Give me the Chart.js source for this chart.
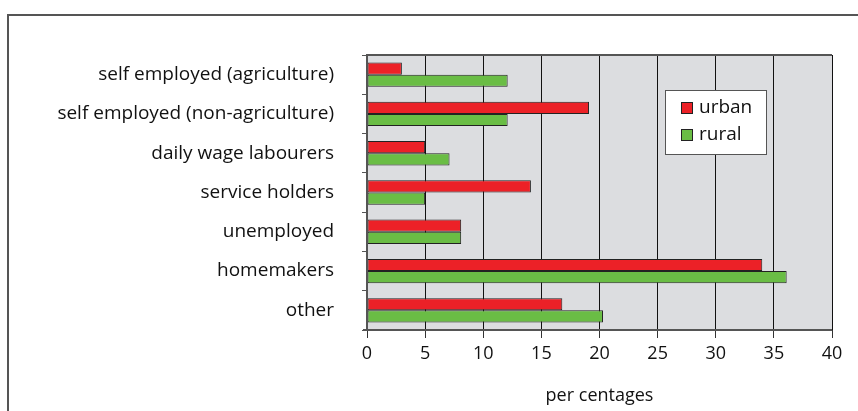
<!DOCTYPE html>
<html>
<head>
<meta charset="utf-8">
<script src="https://cdn.jsdelivr.net/npm/chart.js@4"></script>
<style>
  html, body { margin:0; padding:0; background:#fff; overflow:hidden; }
  #wrap { position:relative; width:858px; height:411px; }
  #frame { position:absolute; left:7px; top:14px; width:900px; height:450px; border-left:2px solid #555; border-top:2px solid #555; }
  canvas { position:absolute; left:0; top:0; }
</style>
</head>
<body>
<div id="wrap">
  <div id="frame"></div>
  <canvas id="chart" width="858" height="411"></canvas>
</div>
<script>
// --- Data ---
const categories = [
  "self employed (agriculture)",
  "self employed (non-agriculture)",
  "daily wage labourers",
  "service holders",
  "unemployed",
  "homemakers",
  "other"
];
const urban = [3, 19.1, 5, 14.1, 8.1, 34, 16.8];
const rural = [12.1, 12.1, 7.1, 5, 8.1, 36.1, 20.3];
const xTicks = [0, 5, 10, 15, 20, 25, 30, 35, 40];
const xTitle = "per centages";

const FONT = "'Open Sans', sans-serif";

// grey plot area + border
const plotBg = {
  id: 'plotBg',
  beforeDraw(chart){
    const {ctx, chartArea:a} = chart;
    ctx.save();
    ctx.fillStyle = '#dcdde0';
    ctx.fillRect(a.left, a.top, a.right-a.left, a.bottom-a.top);
    ctx.restore();
  },
  afterDraw(chart){
    const {ctx, chartArea:a} = chart;
    ctx.save();
    ctx.strokeStyle = '#555';
    ctx.lineWidth = 2;
    ctx.beginPath();
    ctx.moveTo(a.left, a.bottom); ctx.lineTo(a.left, a.top); ctx.lineTo(a.right, a.top);
    ctx.stroke();
    ctx.beginPath();
    ctx.moveTo(a.left-4, a.bottom); ctx.lineTo(a.right, a.bottom);
    ctx.stroke();
    ctx.restore();
  }
};

// boxed legend inside the plot
const boxLegend = {
  id: 'boxLegend',
  afterDraw(chart){
    const ctx = chart.ctx;
    const x = 665, y = 90, w = 101, h = 64;
    ctx.save();
    ctx.fillStyle = '#fff';
    ctx.fillRect(x, y, w, h);
    ctx.strokeStyle = '#555'; ctx.lineWidth = 1;
    ctx.strokeRect(x+0.5, y+0.5, w, h);
    ctx.font = "19px " + FONT;
    ctx.textBaseline = 'middle';
    chart.data.datasets.forEach((d,i)=>{
      const yy = y + 18 + i*27;
      ctx.fillStyle = d.backgroundColor;
      ctx.fillRect(x+16, yy-6, 12, 12);
      ctx.strokeStyle = '#222';
      ctx.strokeRect(x+16.5, yy-5.5, 11, 11);
      ctx.fillStyle = '#111';
      ctx.fillText(d.label, x+34, yy);
    });
    ctx.restore();
  }
};

new Chart(document.getElementById('chart').getContext('2d'), {
  type: 'bar',
  data: {
    labels: categories,
    datasets: [
      { label:'urban', data: urban, backgroundColor:'#ec2127', borderColor:'#222', borderWidth:1, borderSkipped:false, categoryPercentage:0.62, barPercentage:1 },
      { label:'rural', data: rural, backgroundColor:'#6abd45', borderColor:'#222', borderWidth:1, borderSkipped:false, categoryPercentage:0.62, barPercentage:1 }
    ]
  },
  options: {
    indexAxis: 'y',
    responsive: false,
    animation: false,
    layout: { padding: { top:55, right:26, left:0, bottom:0 } },
    plugins: { legend:{ display:false }, tooltip:{ enabled:false } },
    scales: {
      x: {
        min: 0, max: 40,
        afterBuildTicks: s => { s.ticks = xTicks.map(v=>({value:v})); },
        grid: { color:'#111', lineWidth:1, tickLength:8, tickColor:'#333' },
        border: { display:false },
        ticks: { color:'#111', font:{ family:FONT, size:18 }, padding:5 },
        title: { display:true, text:xTitle, color:'#111', font:{ family:FONT, size:18 }, padding:{ top:4 } },
        afterFit: s => { s.height = 81; }
      },
      y: {
        grid: { drawOnChartArea:false, tickLength:5, tickColor:'#555', offset:true },
        border: { display:false },
        ticks: { color:'#111', font:{ family:FONT, size:19 }, padding:28 },
        afterFit: s => { s.width = 367; }
      }
    }
  },
  plugins: [plotBg, boxLegend]
});
</script>
</body>
</html>
